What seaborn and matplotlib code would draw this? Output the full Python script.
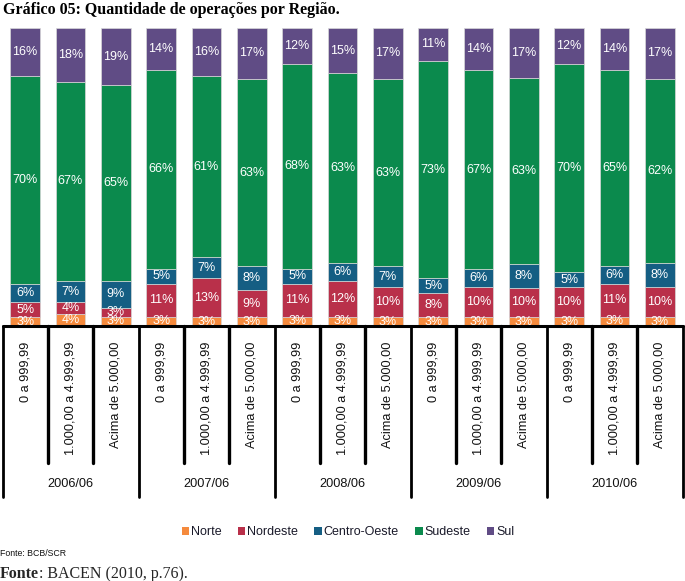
import numpy as np
import pandas as pd
import matplotlib
matplotlib.use("Agg")
import matplotlib.pyplot as plt
import seaborn as sns
from matplotlib.patches import Patch

# ---- data ----
periods = ["2006/06", "2007/06", "2008/06", "2009/06", "2010/06"]
ranges = ["0 a 999,99", "1.000,00 a 4.999,99", "Acima de 5.000,00"]
regions = ["Norte", "Nordeste", "Centro-Oeste", "Sudeste", "Sul"]
norte = [3, 4, 3, 3, 3, 3, 3, 3, 3, 3, 3, 3, 3, 3, 3]
nordeste = [5, 4, 3, 11, 13, 9, 11, 12, 10, 8, 10, 10, 10, 11, 10]
centro_oeste = [6, 7, 9, 5, 7, 8, 5, 6, 7, 5, 6, 8, 5, 6, 8]
sudeste = [70, 67, 65, 66, 61, 63, 68, 63, 63, 73, 67, 63, 70, 65, 62]
sul = [16, 18, 19, 14, 16, 17, 12, 15, 17, 11, 14, 17, 12, 14, 17]
colors = ["#F58A3D", "#B9304A", "#155E83", "#0B8A4D", "#604C85"]

series = [norte, nordeste, centro_oeste, sudeste, sul]
n = len(norte)
bar_ids = [f"b{i}" for i in range(n)]
vals = np.array(series, dtype=float)
tot = vals.sum(axis=0)
shares = vals / tot * 100.0

sns.set_theme(style="white")
plt.rcParams["font.family"] = ["Liberation Sans", "DejaVu Sans"]

W, H = 685, 581
fig = plt.figure(figsize=(W / 100, H / 100), dpi=100)

def px_axes(x0, y0, x1, y1):
    return fig.add_axes([x0 / W, 1 - y1 / H, (x1 - x0) / W, (y1 - y0) / H])

left_px, right_px = 2.5, 682.5
ax = px_axes(left_px, 28, right_px, 326)

bottom = np.zeros(n)
for k, reg in enumerate(regions):
    df = pd.DataFrame({"bar": bar_ids, "v": shares[k]})
    sns.barplot(data=df, x="bar", y="v", order=bar_ids, color=colors[k],
                saturation=1, width=0.66, bottom=bottom, ax=ax,
                edgecolor="#d8d8d8", linewidth=0.5)
    for i in range(n):
        ax.text(i, bottom[i] + shares[k][i] / 2, f"{series[k][i]}%",
                ha="center", va="center", color="white", fontsize=9)
    bottom = bottom + shares[k]

ax.set_xlim(-0.5, n - 0.5)
ax.set_ylim(0, 100)
ax.set_xticks([])
ax.set_yticks([])
ax.set_xlabel("")
ax.set_ylabel("")
for s in ax.spines.values():
    s.set_visible(False)

# ---- category table under the bars ----
tax = px_axes(left_px, 326, right_px, 497)
tax.set_xlim(-0.5, n - 0.5)
tax.set_ylim(0, 1)
tax.set_xticks([])
tax.set_yticks([])
for s in tax.spines.values():
    s.set_visible(False)
inner_bottom = (497 - 463) / 171
tax.plot([-0.5, n - 0.5], [1, 1], color="black", lw=2.2, clip_on=False)
for b in range(n + 1):
    xb = b - 0.5
    if b % 3 == 0:
        tax.plot([xb, xb], [0, 1], color="black", lw=2.0, clip_on=False)
    else:
        tax.plot([xb, xb], [inner_bottom, 1], color="black", lw=2.4, clip_on=False)
for i in range(n):
    tax.text(i, (497 - 342) / 171, ranges[i % 3], rotation=90, ha="center",
             va="top", fontsize=9.2, color="#111111")
for g, p in enumerate(periods):
    tax.text(3 * g + 1, (497 - 484) / 171, p, ha="center", va="center",
             fontsize=9.2, color="#111111")

# ---- legend ----
handles = [Patch(facecolor=c, edgecolor="none", label=r) for c, r in zip(colors, regions)]
fig.legend(handles=handles, loc="center", bbox_to_anchor=(348 / W, 1 - 532 / H),
           ncol=5, frameon=False, fontsize=9, handlelength=0.6, handleheight=0.6,
           handletextpad=0.15, columnspacing=1.3, labelcolor="#1a1a2a")

# ---- titles / sources ----
fig.text(3 / W, 1 - 10 / H, "Gráfico 05: Quantidade de operações por Região.",
         ha="left", va="center", fontsize=11.5, fontweight="bold",
         family=["Liberation Serif", "DejaVu Serif"], color="black")
fig.text(0 / W, 1 - 553 / H, "Fonte: BCB/SCR", ha="left", va="center",
         fontsize=6.3, color="#111111")
t1 = fig.text(0 / W, 1 - 574 / H, "Fonte", ha="left", va="center", fontsize=11.5,
              fontweight="bold", family=["Liberation Serif", "DejaVu Serif"])
fig.canvas.draw()
bb = t1.get_window_extent(renderer=fig.canvas.get_renderer())
fig.text(bb.x1 / W, 1 - 574 / H, ": BACEN (2010, p.76).", ha="left", va="center",
         fontsize=11.5, family=["Liberation Serif", "DejaVu Serif"])

fig.savefig("out.png", dpi=100)
